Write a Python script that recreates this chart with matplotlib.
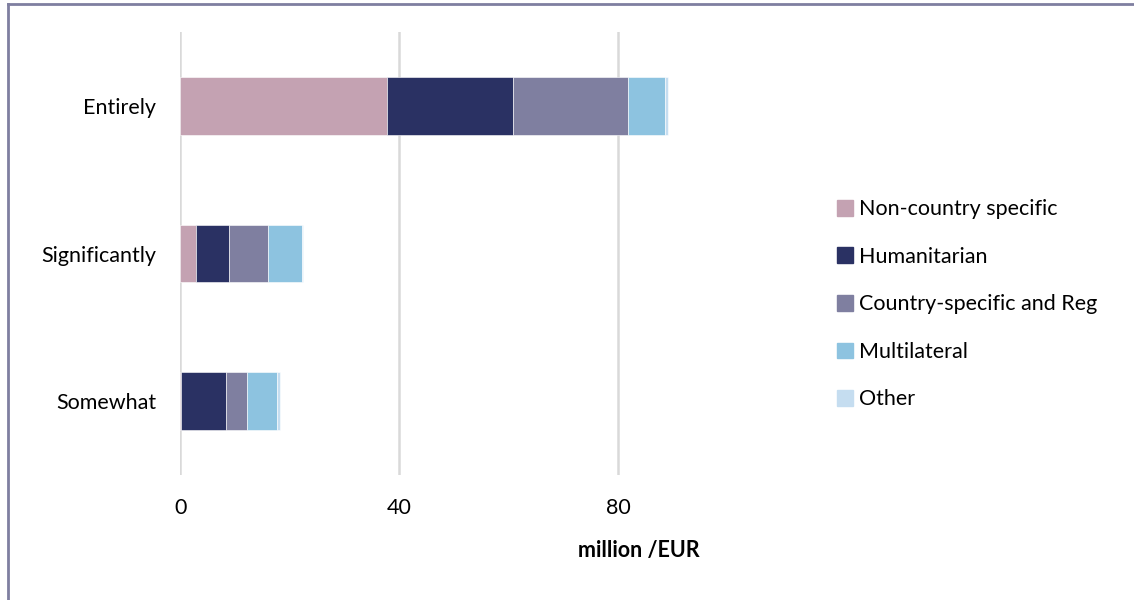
import matplotlib
matplotlib.use("Agg")
import matplotlib.pyplot as plt
from matplotlib.lines import Line2D
import numpy as np

plt.rcParams['font.family'] = ['Lato', 'DejaVu Sans']

categories = ["Entirely", "Significantly", "Somewhat"]
series_names = ["Non-country specific", "Humanitarian",
                "Country-specific and Reg", "Multilateral", "Other"]
non_country = [37.7, 2.8, 0.1]
humanitarian = [23.1, 6.1, 8.3]
country_reg = [21.0, 7.2, 3.7]
multilateral = [6.8, 6.2, 5.65]
other = [0.5, 0.1, 0.45]
series_colors = ["#C4A2B2", "#2A3163", "#7F7FA0", "#8DC3E0", "#C5DDF0"]
x_ticks = [0, 40, 80]

FS = 15.5

fig = plt.figure(figsize=(11.34, 6.0), dpi=100)
W, H = 1134, 600
# plot area in pixels
left, right, top, bottom = 180.3, 727.8, 32.25, 474.75
ax = fig.add_axes([left / W, 1 - bottom / H, (right - left) / W, (bottom - top) / H])

ypos = np.arange(len(categories))
base = np.zeros(len(categories))
handles = []
for name, vals, col in zip(series_names,
                           [non_country, humanitarian, country_reg, multilateral, other],
                           series_colors):
    vals = np.array(vals)
    ax.barh(ypos, vals, left=base, height=0.39, color=col,
            edgecolor="white", linewidth=0.4, zorder=3)
    base += vals
    handles.append(plt.Rectangle((0, 0), 1, 1, color=col))

ax.set_xlim(0, 100)
ax.set_ylim(2.5, -0.5)
ax.set_xticks(x_ticks)
ax.set_xticklabels([str(t) for t in x_ticks], fontsize=FS)
ax.set_yticks(ypos)
ax.set_yticklabels(categories, fontsize=FS)
ax.tick_params(axis='both', length=0, colors='black')
ax.tick_params(axis='x', pad=17)
ax.tick_params(axis='y', pad=17.5)
for s in ax.spines.values():
    s.set_visible(False)
ax.xaxis.grid(True, color="#D9D9D9", linewidth=1.8, zorder=0)
ax.set_axisbelow(True)

fig.text(639 / W, 1 - 551 / H, "million /EUR", fontsize=FS, fontweight='bold',
         ha='center', va='center')

leg = fig.legend(handles, series_names, loc='upper left',
                 bbox_to_anchor=(826 / W, 1 - 188.5 / H), frameon=False,
                 fontsize=FS, handlelength=0.75, handleheight=0.75,
                 handletextpad=0.3, labelspacing=1.28, borderpad=0)

# frame lines along the left and top of the figure
fig.add_artist(Line2D([7.5 / W, 7.5 / W], [0, 1 - 4 / H], color="#7F7FA0", linewidth=2))
fig.add_artist(Line2D([7.5 / W, 1], [1 - 4 / H, 1 - 4 / H], color="#7F7FA0", linewidth=2))

fig.savefig("out.png", dpi=100, facecolor="white")
